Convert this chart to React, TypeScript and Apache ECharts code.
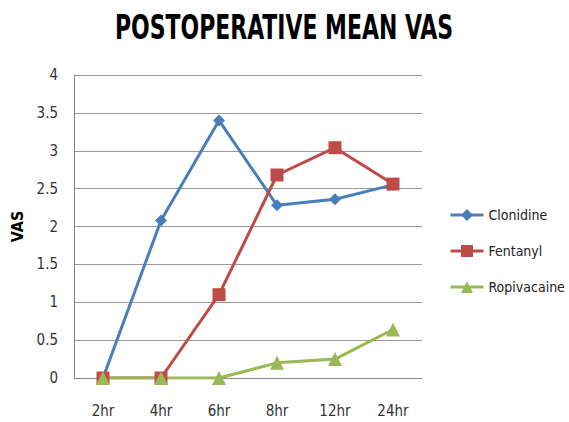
import React, { useEffect, useRef } from "react";
import * as echarts from "echarts";

const categories = ["2hr", "4hr", "6hr", "8hr", "12hr", "24hr"];
const clonidine = [0, 2.08, 3.4, 2.28, 2.36, 2.55];
const fentanyl = [0, 0, 1.1, 2.68, 3.04, 2.56];
const ropivacaine = [0, 0, 0, 0.2, 0.25, 0.64];
const yTicks = [0, 0.5, 1, 1.5, 2, 2.5, 3, 3.5, 4];
const titleText = "POSTOPERATIVE MEAN VAS";

const FONT = "'DejaVu Sans Condensed', 'Liberation Sans Narrow', 'Open Sans', sans-serif";

export default function App() {
  const ref = useRef<HTMLDivElement>(null);
  useEffect(() => {
    const chart = echarts.init(ref.current!, null, { renderer: "svg" });
    const mk = (name: string, data: number[], color: string, symbol: string, size: number) => ({
      name,
      type: "line",
      data,
      symbol,
      symbolSize: size,
      lineStyle: { color, width: 3 },
      itemStyle: { color },
      emphasis: { disabled: true },
    });
    chart.setOption({
      animation: false,
      backgroundColor: "#ffffff",
      graphic: [
        {
          type: "text",
          x: 284,
          y: 28,
          scaleX: 0.74,
          style: {
            text: titleText,
            align: "center",
            verticalAlign: "middle",
            fontFamily: FONT,
            fontWeight: "bold",
            fontSize: 33,
            fill: "#000",
          },
        },
      ],
      grid: { left: 74, right: 147, top: 75, bottom: 44, containLabel: false },
      legend: {
        orient: "vertical",
        left: 444,
        top: 203,
        itemGap: 22,
        itemWidth: 33,
        itemHeight: 15,
        lineStyle: { width: 3 },
        textStyle: { fontFamily: FONT, fontSize: 14, color: "#222" },
        data: ["Clonidine", "Fentanyl", "Ropivacaine"],
      },
      xAxis: {
        type: "category",
        data: categories,
        boundaryGap: true,
        axisLine: { lineStyle: { color: "#888", width: 1 } },
        axisTick: { show: false },
        axisLabel: { fontFamily: FONT, fontSize: 15, color: "#333", margin: 25 },
      },
      yAxis: {
        type: "value",
        min: 0,
        max: 4,
        interval: 0.5,
        name: "VAS",
        nameLocation: "middle",
        nameGap: 44,
        nameTextStyle: { fontFamily: FONT, fontWeight: "bold", fontSize: 16, color: "#000" },
        axisLine: { show: true, lineStyle: { color: "#888", width: 1 } },
        axisTick: { show: false },
        axisLabel: {
          fontFamily: FONT,
          fontSize: 15,
          color: "#333",
          margin: 16,
          formatter: (v: number) => (yTicks.includes(v) ? String(v) : ""),
        },
        splitLine: { lineStyle: { color: "#999", width: 1 } },
      },
      series: [
        mk("Clonidine", clonidine, "#4A7EBB", "diamond", 12),
        mk("Fentanyl", fentanyl, "#BE4B48", "rect", 13),
        mk("Ropivacaine", ropivacaine, "#98B954", "triangle", 14),
      ],
    });
    return () => chart.dispose();
  }, []);
  return (
    <div
      ref={ref}
      style={{ position: "fixed", left: 0, top: 0, width: 569, height: 422 }}
    />
  );
}
